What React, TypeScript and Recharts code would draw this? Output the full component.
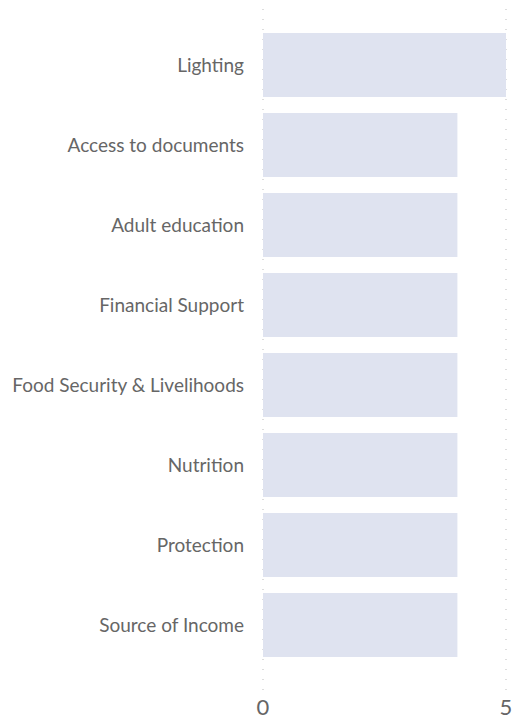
import { BarChart, Bar, XAxis, YAxis, CartesianGrid } from 'recharts';

const categories = [
  'Lighting',
  'Access to documents',
  'Adult education',
  'Financial Support',
  'Food Security & Livelihoods',
  'Nutrition',
  'Protection',
  'Source of Income',
];
const counts = [5, 4, 4, 4, 4, 4, 4, 4];
const xTicks = [0, 5];

const FONT = 'Lato, "Open Sans", sans-serif';

export default function App() {
  const data = categories.map((name, i) => ({ name, value: counts[i] }));

  return (
    <div style={{ position: 'absolute', left: 0, top: 0, width: 512, height: 722, background: '#fff' }}>
      <BarChart
        width={512}
        height={722}
        data={data}
        layout="vertical"
        margin={{ top: 9, right: 6, left: 0, bottom: 0 }}
        barCategoryGap="10%"
      >
        <CartesianGrid horizontal={false} stroke="#bbbbbb" strokeDasharray="1 9" />
        <XAxis
          type="number"
          domain={[0, 5]}
          ticks={xTicks}
          height={32}
          axisLine={false}
          tickLine={false}
          tickSize={0}
          tickMargin={9}
          tick={{ fontSize: 22, fill: '#666', fontFamily: FONT }}
        />
        <YAxis
          type="category"
          dataKey="name"
          width={263}
          axisLine={false}
          tickLine={false}
          tickSize={0}
          tickMargin={19}
          padding={{ top: 16, bottom: 25 }}
          interval={0}
          tick={{ fontSize: 19, fill: '#666', fontFamily: FONT }}
        />
        <Bar dataKey="value" fill="#dfe3f0" isAnimationActive={false} />
      </BarChart>
    </div>
  );
}
